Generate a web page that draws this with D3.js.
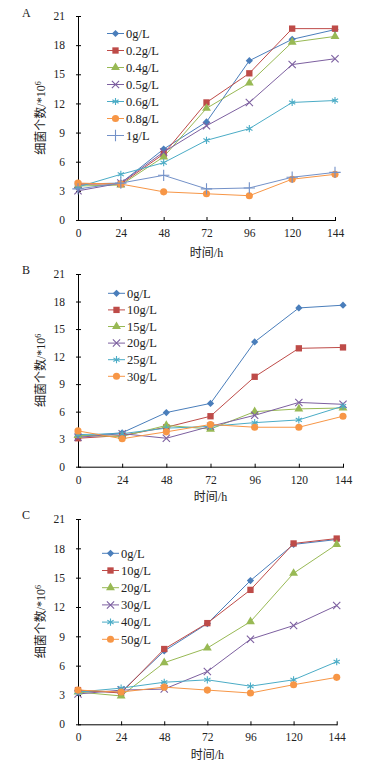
<!DOCTYPE html>
<html><head><meta charset="utf-8">
<script src="https://cdn.jsdelivr.net/npm/d3@7"></script>
<style>
html,body{margin:0;padding:0;background:#fff;}
svg{display:block;}
</style>
</head><body>
<svg id="chart" width="384" height="764"></svg>
<script>
// ---- data ----
const hours = [0, 24, 48, 72, 96, 120, 144];
const yTicks = [0, 3, 6, 9, 12, 15, 18, 21];

const namesA = ["0g/L", "0.2g/L", "0.4g/L", "0.5g/L", "0.6g/L", "0.8g/L", "1g/L"];
const a0   = [3.7, 3.8, 7.3, 10.1, 16.4, 18.6, 19.6];
const a02  = [3.7, 3.7, 6.8, 12.1, 15.1, 19.7, 19.7];
const a04  = [3.5, 3.6, 6.5, 11.5, 14.1, 18.3, 18.9];
const a05  = [3.0, 3.8, 7.0, 9.7, 12.1, 16.0, 16.6];
const a06  = [3.4, 4.7, 5.9, 8.2, 9.4, 12.1, 12.3];
const a08  = [3.8, 3.7, 2.9, 2.7, 2.5, 4.2, 4.7];
const a1   = [3.2, 3.8, 4.6, 3.2, 3.3, 4.4, 4.9];

const namesB = ["0g/L", "10g/L", "15g/L", "20g/L", "25g/L", "30g/L"];
const b0  = [3.3, 3.7, 5.9, 6.9, 13.6, 17.3, 17.6];
const b10 = [3.1, 3.4, 4.3, 5.5, 9.8, 12.9, 13.0];
const b15 = [3.4, 3.3, 4.5, 4.1, 6.0, 6.3, 6.4];
const b20 = [3.2, 3.6, 3.1, 4.4, 5.6, 7.0, 6.8];
const b25 = [3.5, 3.6, 4.2, 4.4, 4.8, 5.1, 6.6];
const b30 = [3.9, 3.05, 3.8, 4.6, 4.3, 4.3, 5.5];

const namesC = ["0g/L", "10g/L", "20g/L", "30g/L", "40g/L", "50g/L"];
const c0  = [3.4, 3.3, 7.5, 10.3, 14.7, 18.4, 18.9];
const c10 = [3.5, 3.2, 7.7, 10.35, 13.75, 18.5, 19.0];
const c20 = [3.3, 2.9, 6.3, 7.8, 10.5, 15.45, 18.4];
const c30 = [3.1, 3.5, 3.6, 5.4, 8.7, 10.1, 12.15];
const c40 = [3.3, 3.7, 4.3, 4.55, 3.9, 4.55, 6.4];
const c50 = [3.5, 3.3, 3.8, 3.5, 3.2, 4.05, 4.8];

// ---- styles ----
const colors = ["#4A7EBB", "#BE4B48", "#98B954", "#7D60A0", "#4BACC6", "#F79646", "#7391C8"];
const markers = ["diamond", "square", "triangle", "times", "asterisk", "circle", "plus"];
const serif = "'Liberation Serif','Times New Roman',serif";
const cjk = "'Liberation Serif','Noto Sans CJK SC',serif";

const svg = d3.select("#chart");

function markerPath(type) {
  const S = {
    diamond: [d3.symbolSquare, 26],
    square: [d3.symbolSquare, 40],
    triangle: [d3.symbolTriangle, 34],
    circle: [d3.symbolCircle, 40],
    times: [d3.symbolTimes || d3.symbolCross, 36],
    asterisk: [d3.symbolAsterisk || d3.symbolStar, 36],
    plus: [d3.symbolPlus || d3.symbolCross, 44]
  };
  const s = S[type];
  return d3.symbol().type(s[0]).size(s[1])();
}
const strokeOnly = {times: true, asterisk: true, plus: true};

function drawMarker(g, type, color, x, y) {
  const rot = type === "diamond" ? " rotate(45)" : "";
  const p = g.append("path").attr("d", markerPath(type))
    .attr("transform", `translate(${x},${y})${rot}`);
  if (strokeOnly[type]) p.attr("fill", "none").attr("stroke", color).attr("stroke-width", 1.1);
  else p.attr("fill", color).attr("stroke", "none");
}

function panel(cfg) {
  const g = svg.append("g");
  const x = d3.scaleLinear().domain([0, 144]).range([cfg.x0, cfg.x1]);
  const y = d3.scaleLinear().domain([0, 21]).range([cfg.yb, cfg.yt]);

  // axes
  const ya = g.append("g").attr("transform", `translate(${cfg.x0},0)`)
    .call(d3.axisLeft(y).tickValues(yTicks).tickSizeInner(2).tickSizeOuter(0).tickPadding(11));
  ya.select(".domain").attr("stroke", "#000");
  ya.selectAll(".tick line").attr("x1", 3).attr("x2", -2).attr("stroke", "#000");
  ya.selectAll(".tick text").attr("font-family", serif).attr("font-size", 11.5).attr("fill", "#222");

  const xa = g.append("g").attr("transform", `translate(0,${cfg.yb})`)
    .call(d3.axisBottom(x).tickValues(hours).tickSizeInner(2).tickSizeOuter(0).tickPadding(7));
  xa.select(".domain").attr("stroke", "#000");
  xa.selectAll(".tick line").attr("y1", -3).attr("y2", 1).attr("stroke", "#000");
  xa.selectAll(".tick text").attr("font-family", serif).attr("font-size", 11.5).attr("fill", "#222");

  // series
  const line = d3.line().x((d, i) => x(hours[i])).y(d => y(d));
  cfg.series.forEach((s, k) => {
    g.append("path").datum(s).attr("d", line).attr("fill", "none")
      .attr("stroke", colors[k]).attr("stroke-width", 1);
  });
  cfg.series.forEach((s, k) => {
    s.forEach((v, i) => drawMarker(g, markers[k], colors[k], x(hours[i]), y(v)));
  });

  // legend
  cfg.names.forEach((n, k) => {
    const ly = cfg.ly + k * cfg.ldy;
    g.append("line").attr("x1", cfg.lx).attr("x2", cfg.lx + 17).attr("y1", ly).attr("y2", ly)
      .attr("stroke", colors[k]).attr("stroke-width", 1);
    drawMarker(g, markers[k], colors[k], cfg.lx + 8.5, ly);
    g.append("text").attr("x", cfg.lx + 19).attr("y", ly).attr("dy", "0.35em")
      .attr("font-family", serif).attr("font-size", 12.5).attr("fill", "#222").text(n);
  });

  // panel letter
  g.append("text").attr("x", 22).attr("y", cfg.letterY).attr("dy", "0.35em")
    .attr("font-family", serif).attr("font-size", 12).attr("fill", "#222").text(cfg.letter);

  // x title
  g.append("text").attr("x", (cfg.x0 + cfg.x1) / 2).attr("y", cfg.xtY).attr("dy", "0.35em")
    .attr("text-anchor", "middle").attr("font-family", cjk).attr("font-size", 12).attr("fill", "#222")
    .text("时间/h");

  // y title
  const cy = (cfg.yt + cfg.yb) / 2;
  const yt = g.append("text").attr("transform", `translate(45,${cy}) rotate(-90)`)
    .attr("text-anchor", "middle").attr("font-family", cjk).attr("font-size", 12).attr("fill", "#222");
  yt.append("tspan").text("细菌个数/*10");
  yt.append("tspan").attr("font-size", 8).attr("dy", "-0.5em").text("6");
}

panel({letter: "A", letterY: 13, x0: 78, x1: 335, yt: 16, yb: 220, xtY: 253,
  lx: 107, ly: 33.5, ldy: 17, names: namesA,
  series: [a0, a02, a04, a05, a06, a08, a1]});
panel({letter: "B", letterY: 270, x0: 78, x1: 343, yt: 274, yb: 466.7, xtY: 497,
  lx: 108, ly: 293.3, ldy: 16.6, names: namesB,
  series: [b0, b10, b15, b20, b25, b30]});
panel({letter: "C", letterY: 515, x0: 78, x1: 336.7, yt: 519, yb: 724.3, xtY: 755,
  lx: 102, ly: 553.3, ldy: 17.2, names: namesC,
  series: [c0, c10, c20, c30, c40, c50]});
</script>
</body></html>
